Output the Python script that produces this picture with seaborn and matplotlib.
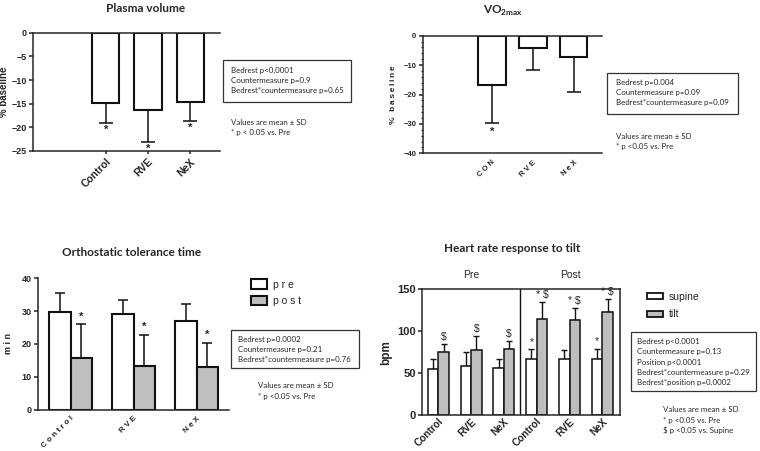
"""
Bedrest study summary figure: plasma volume, VO2max, orthostatic tolerance, heart rate
"""

import numpy as np
import pandas as pd
import matplotlib
matplotlib.use("Agg")
import matplotlib.pyplot as plt
from matplotlib.patches import Patch, Rectangle
from matplotlib.ticker import MultipleLocator
import seaborn as sns

# ============ DATA ============
pv_groups = ["Control", "RVE", "NeX"]
pv_mean = [-14.9, -16.3, -14.7]
pv_sd = [4.1, 6.7, 4.0]
pv_marks = ["*", "*", "*"]

vo2_groups = ["CON", "RVE", "NeX"]
vo2_mean = [-16.9, -4.1, -7.1]
vo2_sd = [12.7, 7.7, 11.9]
vo2_marks = ["*", "", ""]

ot_groups = ["Control", "RVE", "NeX"]
ot_pre_mean = [29.6, 29.2, 27.0]
ot_pre_sd = [6.0, 4.3, 5.2]
ot_post_mean = [15.6, 13.4, 12.9]
ot_post_sd = [10.4, 9.3, 7.5]
ot_post_marks = ["*", "*", "*"]

hr_phases = ["Pre", "Pre", "Pre", "Post", "Post", "Post"]
hr_groups = ["Control", "RVE", "NeX", "Control", "RVE", "NeX"]
hr_supine_mean = [54.5, 58.1, 56.1, 67.2, 66.9, 67.2]
hr_supine_sd = [12.4, 17.5, 10.8, 11.2, 10.7, 12.0]
hr_tilt_mean = [75.2, 78.0, 78.8, 115.0, 113.8, 122.6]
hr_tilt_sd = [10.0, 16.7, 9.9, 19.9, 14.3, 16.3]
hr_supine_marks = ["", "", "", "*", "", "*"]
hr_tilt_marks = ["$", "$", "$", "* $", "* $", "* $"]

pv_stats = ["Bedrest p<0,0001", "Countermeasure p=0.9",
            "Bedrest*countermeasure p=0.65"]
vo2_stats = ["Bedrest p=0.004", "Countermeasure p=0.09",
             "Bedrest*countermeasure p=0.09"]
ot_stats = ["Bedrest p=0.0002", "Countermeasure p=0.21",
            "Bedrest*countermeasure p=0.76"]
hr_stats = ["Bedrest p<0.0001", "Countermeasure p=0.13", "Position p<0.0001",
            "Bedrest*countermeasure p=0.29", "Bedrest*position p=0.0002"]

pv_notes = ["Values are mean \u00b1 SD", "* p < 0.05 vs. Pre"]
vo2_notes = ["Values are mean \u00b1 SD", "* p <0.05 vs. Pre"]
ot_notes = ["Values are mean \u00b1 SD", "* p <0.05 vs. Pre"]
hr_notes = ["Values are mean \u00b1 SD", "* p <0.05 vs. Pre", "$ p <0.05 vs. Supine"]

# ============ STYLE ============
W, H = 760, 451
GRAY = "#BEBEBE"
EDGE = "#111111"
BOX_FONT = "Lato"

sns.set_style("ticks")
plt.rcParams["font.family"] = ["Liberation Sans", "DejaVu Sans"]
plt.rcParams["mathtext.fontset"] = "custom"
plt.rcParams["mathtext.rm"] = "Lato:bold"
plt.rcParams["mathtext.bf"] = "Lato:bold"
plt.rcParams["axes.linewidth"] = 1.1
plt.rcParams["xtick.major.width"] = 1.1
plt.rcParams["ytick.major.width"] = 1.1


def spaced(s, sep="\u2009"):
    """Letter-spaced label like the GraphPad export"""
    return sep.join(s)


def axes_px(fig, left, top, right, bottom):
    return fig.add_axes([left / W, 1 - bottom / H, (right - left) / W, (bottom - top) / H])


def fig_text(fig, x, y, s, **kw):
    return fig.text(x / W, 1 - y / H, s, **kw)


def stat_box(fig, box, lines, text_x, first_y, line_h, size=5.7):
    l, t, r, b = box
    rect = Rectangle((l / W, 1 - b / H), (r - l) / W, (b - t) / H,
                     transform=fig.transFigure, fill=False, lw=0.9, ec="#333333")
    fig.add_artist(rect)
    for i, s in enumerate(lines):
        fig_text(fig, text_x, first_y + i * line_h, s, family=BOX_FONT,
                 fontsize=size, va="center", ha="left")


def notes(fig, lines, x, first_y, line_h, size=5.7):
    for i, s in enumerate(lines):
        fig_text(fig, x, first_y + i * line_h, s, family=BOX_FONT,
                 fontsize=size, va="center", ha="left")


def draw_sd(ax, bars, means, sds, capsize, lw=1.1):
    """One-sided SD bars at the bar centres"""
    xs = [b.get_x() + b.get_width() / 2 for b in bars]
    means = np.asarray(means)
    sds = np.asarray(sds)
    neg = means < 0
    lower = np.where(neg, sds, 0)
    upper = np.where(neg, 0, sds)
    ax.errorbar(xs, means, yerr=[lower, upper], fmt="none", ecolor=EDGE,
                elinewidth=lw, capsize=capsize, capthick=lw, zorder=0.9)
    return xs


def add_marks(ax, xs, means, sds, marks, size=6, pad=1.5, weight="bold"):
    for x, m, s, mk in zip(xs, means, sds, marks):
        if not mk:
            continue
        if m < 0:
            ax.annotate(mk, (x, m - s), xytext=(0, -pad), textcoords="offset points",
                        ha="center", va="top", fontsize=size, fontweight=weight)
        else:
            ax.annotate(mk, (x, m + s), xytext=(0, pad), textcoords="offset points",
                        ha="center", va="bottom", fontsize=size, fontweight=weight)


fig = plt.figure(figsize=(W / 100, H / 100), dpi=100)
fig.patch.set_facecolor("white")

# ============ PLASMA VOLUME ============
ax = axes_px(fig, 33.3, 32.7, 220, 151)
pv_df = pd.DataFrame({"group": pv_groups, "change": pv_mean})
sns.barplot(data=pv_df, x="group", y="change", order=pv_groups, color="white",
            saturation=1, edgecolor=EDGE, linewidth=1.5, width=0.64,
            errorbar=None, ax=ax)
xs = draw_sd(ax, ax.containers[0], pv_mean, pv_sd, capsize=4.8)
add_marks(ax, xs, pv_mean, pv_sd, pv_marks, size=8, pad=1.5)
ax.set_xlim(-1.71, 2.70)
ax.set_ylim(-25, 0)
ax.set_yticks([0, -5, -10, -15, -20, -25])
ax.spines["right"].set_visible(False)
ax.tick_params(axis="y", labelsize=6.5, length=3, pad=1.5)
ax.tick_params(axis="x", length=2, pad=2)
for lbl in ax.get_yticklabels():
    lbl.set_fontweight("bold")
ax.set_xticks(range(len(pv_groups)))
ax.set_xticklabels(pv_groups, rotation=45, ha="right", rotation_mode="anchor",
                   fontsize=7.5, fontweight="bold")
ax.set_xlabel("")
ax.set_ylabel("% baseline", fontsize=7, fontweight="bold", labelpad=2)
fig_text(fig, 146, 8, "Plasma volume", family=BOX_FONT, fontsize=8.5,
         fontweight="bold", ha="center", va="center")
stat_box(fig, (223, 60, 351, 102), pv_stats, 230.7, 70, 10)
notes(fig, pv_notes, 230.5, 122.3, 10)

# ============ VO2max ============
ax = axes_px(fig, 422.7, 35.7, 601.7, 153.3)
vo2_df = pd.DataFrame({"group": vo2_groups, "change": vo2_mean})
sns.barplot(data=vo2_df, x="group", y="change", order=vo2_groups, color="white",
            saturation=1, edgecolor=EDGE, linewidth=1.5, width=0.68,
            errorbar=None, ax=ax)
xs = draw_sd(ax, ax.containers[0], vo2_mean, vo2_sd, capsize=5)
add_marks(ax, xs, vo2_mean, vo2_sd, vo2_marks, size=8, pad=3)
ax.set_xlim(-1.69, 2.69)
ax.set_ylim(-40, 0)
ax.set_yticks([0, -10, -20, -30, -40])
ax.yaxis.set_minor_locator(MultipleLocator(2))
ax.spines["right"].set_visible(False)
ax.tick_params(axis="y", which="major", labelsize=5.5, length=3, pad=1.5)
ax.tick_params(axis="y", which="minor", length=1.8, width=0.8)
ax.tick_params(axis="x", length=0, pad=4)
for lbl in ax.get_yticklabels():
    lbl.set_fontweight("bold")
ax.set_xticks(range(len(vo2_groups)))
ax.set_xticklabels([spaced(g, " ") for g in vo2_groups], rotation=45, ha="right",
                   rotation_mode="anchor", fontsize=5.5, fontweight="bold")
ax.set_xlabel("")
ax.set_ylabel(spaced("% baseline"), fontsize=6, fontweight="bold", labelpad=5)
fig_text(fig, 503, 11, "VO$_{\\mathrm{2max}}$", family=BOX_FONT, fontsize=8.5,
         fontweight="bold", ha="center", va="center")
stat_box(fig, (607.3, 73.3, 738.3, 114.3), vo2_stats, 616, 82.7, 9.7)
notes(fig, vo2_notes, 616, 136.7, 10)

# ============ ORTHOSTATIC TOLERANCE ============
ax = axes_px(fig, 38, 278.3, 228.7, 409.5)
ot_df = pd.DataFrame({
    "group": ot_groups * 2,
    "time": ["pre"] * 3 + ["post"] * 3,
    "minutes": ot_pre_mean + ot_post_mean,
})
sns.barplot(data=ot_df, x="group", y="minutes", hue="time", order=ot_groups,
            hue_order=["pre", "post"], palette={"pre": "white", "post": GRAY},
            saturation=1, edgecolor=EDGE, linewidth=1.5, width=0.68,
            errorbar=None, legend=False, ax=ax)
draw_sd(ax, ax.containers[0], ot_pre_mean, ot_pre_sd, capsize=3.6)
xs = draw_sd(ax, ax.containers[1], ot_post_mean, ot_post_sd, capsize=3.6)
add_marks(ax, xs, ot_post_mean, ot_post_sd, ot_post_marks, size=8, pad=2)
ax.set_xlim(-0.52, 2.51)
ax.set_ylim(0, 40)
ax.set_yticks([0, 10, 20, 30, 40])
sns.despine(ax=ax)
ax.tick_params(axis="y", labelsize=6.5, length=3, pad=1.5)
ax.tick_params(axis="x", length=0, pad=4)
for lbl in ax.get_yticklabels():
    lbl.set_fontweight("bold")
ax.set_xticks(range(len(ot_groups)))
ax.set_xticklabels([spaced(g, " ") for g in ot_groups], rotation=45, ha="right",
                   rotation_mode="anchor", fontsize=5.8, fontweight="bold")
ax.set_xlabel("")
ax.set_ylabel(spaced("min", " "), fontsize=6.5, fontweight="bold", labelpad=6)
fig_text(fig, 131.7, 252.3, "Orthostatic tolerance time", family=BOX_FONT,
         fontsize=8.5, fontweight="bold", ha="center", va="center")
ot_handles = [Patch(facecolor="white", edgecolor=EDGE, linewidth=1.5, label=spaced("pre", " ")),
              Patch(facecolor=GRAY, edgecolor=EDGE, linewidth=1.5, label=spaced("post", " "))]
fig.legend(handles=ot_handles, loc="upper left", bbox_to_anchor=(250.5 / W, 1 - 279.5 / H),
           frameon=False, fontsize=7.5, handlelength=1.6, handleheight=1.0,
           labelspacing=0.6, handletextpad=0.6, borderpad=0, borderaxespad=0)
stat_box(fig, (230.7, 330, 359.3, 367.7), ot_stats, 237.7, 339.3, 10.3)
notes(fig, ot_notes, 258.3, 385.7, 11)

# ============ HEART RATE ============
ax = axes_px(fig, 422.3, 289.3, 620, 415)
hr_cond = [p + " " + g for p, g in zip(hr_phases, hr_groups)]
hr_df = pd.DataFrame({
    "cond": hr_cond * 2,
    "position": ["supine"] * 6 + ["tilt"] * 6,
    "bpm": hr_supine_mean + hr_tilt_mean,
})
sns.barplot(data=hr_df, x="cond", y="bpm", hue="position", order=hr_cond,
            hue_order=["supine", "tilt"], palette={"supine": "white", "tilt": GRAY},
            saturation=1, edgecolor=EDGE, linewidth=1.1, width=0.64,
            errorbar=None, legend=False, ax=ax)
xs_s = draw_sd(ax, ax.containers[0], hr_supine_mean, hr_supine_sd, capsize=2.3, lw=1.0)
xs_t = draw_sd(ax, ax.containers[1], hr_tilt_mean, hr_tilt_sd, capsize=2.3, lw=1.0)
add_marks(ax, xs_s, hr_supine_mean, hr_supine_sd, hr_supine_marks, size=7.5, pad=1.5,
          weight="normal")
add_marks(ax, xs_t, hr_tilt_mean, hr_tilt_sd, hr_tilt_marks, size=7.5, pad=1.5,
          weight="normal")
ax.axvline(2.5, color=EDGE, lw=1.0)
ax.set_xlim(-0.49, 5.54)
ax.set_ylim(0, 150)
ax.set_yticks([0, 50, 100, 150])
ax.tick_params(axis="y", labelsize=8, length=3, pad=1.5)
ax.tick_params(axis="x", length=0, pad=1)
for lbl in ax.get_yticklabels():
    lbl.set_fontweight("bold")
ax.set_xticks(range(len(hr_cond)))
ax.set_xticklabels(hr_groups, rotation=45, ha="right", rotation_mode="anchor",
                   fontsize=7.3, fontweight="bold")
ax.set_xlabel("")
ax.set_ylabel("bpm", fontsize=8.5, fontweight="bold", labelpad=4)
fig_text(fig, 511.7, 249, "Heart rate response to tilt", family=BOX_FONT,
         fontsize=8.5, fontweight="bold", ha="center", va="center")
fig_text(fig, 471.7, 275, "Pre", fontsize=7.5, ha="center", va="center")
fig_text(fig, 570, 275, "Post", fontsize=7.5, ha="center", va="center")
hr_handles = [Patch(facecolor="white", edgecolor=EDGE, linewidth=1.3, label="supine"),
              Patch(facecolor=GRAY, edgecolor=EDGE, linewidth=1.3, label="tilt")]
fig.legend(handles=hr_handles, loc="upper left", bbox_to_anchor=(647 / W, 1 - 292 / H),
           frameon=False, fontsize=7.5, handlelength=1.5, handleheight=0.5,
           labelspacing=0.7, handletextpad=0.6, borderpad=0, borderaxespad=0)
stat_box(fig, (630.7, 331.7, 756, 390.7), hr_stats, 637.3, 341.7, 10.2)
notes(fig, hr_notes, 663.3, 410, 10)

fig.savefig("out.png", dpi=100, facecolor="white")
